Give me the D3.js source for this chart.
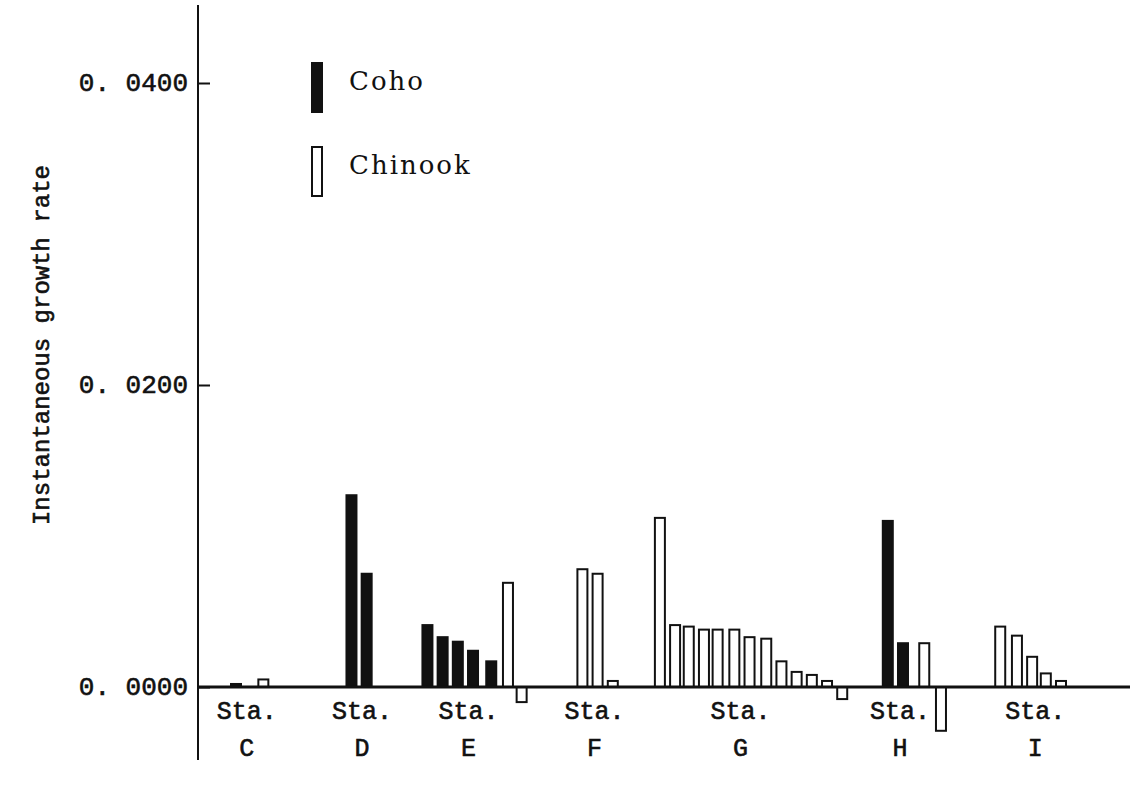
<!DOCTYPE html>
<html>
<head>
<meta charset="utf-8">
<script src="https://cdn.jsdelivr.net/npm/d3@7"></script>
<style>
  body { margin: 0; background: #fff; }
  svg { display: block; }
  .tick-label, .sta, .ytitle { font-family: "Liberation Mono", monospace; fill: #111; stroke: #111; stroke-width: 0.6px; }
  .legend text { font-family: "DejaVu Serif", serif; fill: #111; letter-spacing: 2px; }
</style>
</head>
<body>
<div id="chart"></div>
<script>
// stations along the x axis, with slot position of the label
const stations = ["C", "D", "E", "F", "G", "H", "I"];
const stationSlots = [0.7, 8.3, 15.3, 23.6, 33.2, 43.7, 52.6];

// every bar: station, species, slot along the x axis, value
const barStation = ["C","C", "D","D", "E","E","E","E","E","E","E", "F","F","F",
  "G","G","G","G","G","G","G","G","G","G","G","G","G", "H","H","H","H", "I","I","I","I","I"];
const barSpecies = ["Coho","Chinook", "Coho","Coho",
  "Coho","Coho","Coho","Coho","Coho","Chinook","Chinook",
  "Chinook","Chinook","Chinook",
  "Chinook","Chinook","Chinook","Chinook","Chinook","Chinook","Chinook","Chinook","Chinook","Chinook","Chinook","Chinook","Chinook",
  "Coho","Coho","Chinook","Chinook",
  "Chinook","Chinook","Chinook","Chinook","Chinook"];
const barSlot = [0, 1.8, 7.6, 8.6,
  12.6, 13.6, 14.6, 15.6, 16.8, 17.9, 18.8,
  22.8, 23.8, 24.8,
  27.9, 28.9, 29.8, 30.8, 31.7, 32.8, 33.8, 34.9, 35.9, 36.9, 37.9, 38.9, 39.9,
  42.9, 43.9, 45.3, 46.4,
  50.3, 51.4, 52.4, 53.3, 54.3];
const barValue = [0.0002, 0.0005, 0.0127, 0.0075,
  0.0041, 0.0033, 0.0030, 0.0024, 0.0017, 0.0069, -0.0010,
  0.0078, 0.0075, 0.0004,
  0.0112, 0.0041, 0.0040, 0.0038, 0.0038, 0.0038, 0.0033, 0.0032, 0.0017, 0.0010, 0.0008, 0.0004, -0.0008,
  0.0110, 0.0029, 0.0029, -0.0029,
  0.0040, 0.0034, 0.0020, 0.0009, 0.0004];

const yTicks = [0, 0.02, 0.04];
const yTickLabels = ["0. 0000", "0. 0200", "0. 0400"];
const yTitle = "Instantaneous growth rate";
const legendItems = ["Coho", "Chinook"];

const width = 1136, height = 785;
const svg = d3.select("#chart").append("svg")
  .attr("width", width)
  .attr("height", height);

const x = d3.scaleLinear().domain([0, 54.3]).range([236, 1061]);
const y = d3.scaleLinear().domain([0, 0.04]).range([687, 83]);
const axisX = 198;
const barW = 10;

// y axis line and ticks
svg.append("line")
  .attr("x1", axisX).attr("x2", axisX)
  .attr("y1", 5).attr("y2", 760)
  .attr("stroke", "#111").attr("stroke-width", 2);

const yAxis = svg.append("g")
  .attr("transform", "translate(" + axisX + ",0)")
  .call(d3.axisRight(y).tickValues(yTicks).tickSize(12).tickFormat(""));
yAxis.select(".domain").remove();
yAxis.selectAll("line").attr("stroke", "#111").attr("stroke-width", 2);

svg.selectAll(".tick-label")
  .data(yTicks)
  .enter().append("text")
  .attr("class", "tick-label")
  .attr("x", 188)
  .attr("y", d => y(d) + 8)
  .attr("text-anchor", "end")
  .attr("font-size", 26)
  .text((d, i) => yTickLabels[i]);

svg.append("text")
  .attr("class", "ytitle")
  .attr("transform", "translate(49,345) rotate(-90)")
  .attr("text-anchor", "middle")
  .attr("font-size", 24)
  .text(yTitle);

// bars
const bars = barValue.map((v, i) => ({
  station: barStation[i], species: barSpecies[i], slot: barSlot[i], value: v
}));

svg.selectAll(".bar")
  .data(bars)
  .enter().append("rect")
  .attr("class", "bar")
  .attr("x", d => x(d.slot) - barW / 2)
  .attr("y", d => y(Math.max(0, d.value)))
  .attr("width", barW)
  .attr("height", d => Math.abs(y(d.value) - y(0)))
  .attr("fill", d => d.species === "Coho" ? "#111" : "#fff")
  .attr("stroke", "#111")
  .attr("stroke-width", 2);

// baseline
svg.append("line")
  .attr("x1", axisX).attr("x2", 1130)
  .attr("y1", y(0)).attr("y2", y(0))
  .attr("stroke", "#111").attr("stroke-width", 3);

// station labels
const sta = svg.selectAll(".sta-g")
  .data(stations)
  .enter().append("g")
  .attr("transform", (d, i) => "translate(" + x(stationSlots[i]) + ",0)");
sta.append("text")
  .attr("class", "sta")
  .attr("y", 719)
  .attr("text-anchor", "middle")
  .attr("font-size", 25)
  .text("Sta.");
sta.append("text")
  .attr("class", "sta")
  .attr("y", 756)
  .attr("text-anchor", "middle")
  .attr("font-size", 25)
  .text(d => d);

// legend
const legend = svg.append("g").attr("class", "legend");
const lg = legend.selectAll("g")
  .data(legendItems)
  .enter().append("g")
  .attr("transform", (d, i) => "translate(312," + (63 + i * 84) + ")");
lg.append("rect")
  .attr("width", barW)
  .attr("height", 49)
  .attr("fill", d => d === "Coho" ? "#111" : "#fff")
  .attr("stroke", "#111")
  .attr("stroke-width", 2);
lg.append("text")
  .attr("x", 37)
  .attr("y", 27)
  .attr("font-size", 26)
  .text(d => d);
</script>
</body>
</html>
